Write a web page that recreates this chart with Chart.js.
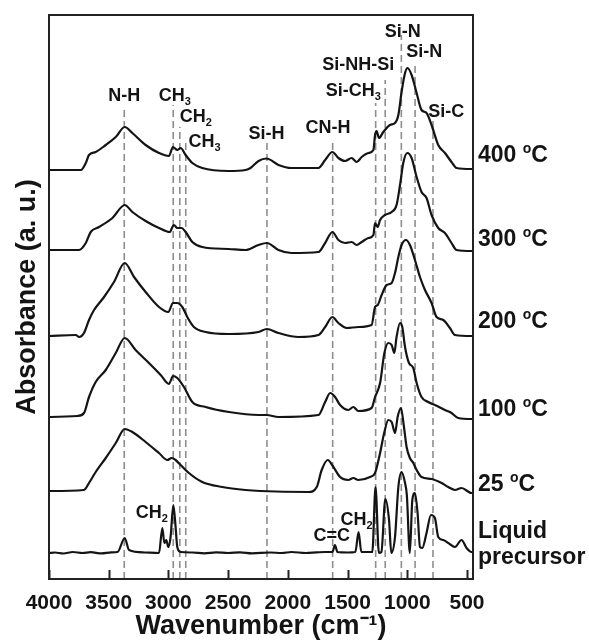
<!DOCTYPE html>
<html lang="en">
<head>
<meta charset="utf-8">
<title>FTIR spectra vs. temperature</title>
<script src="https://cdn.jsdelivr.net/npm/chart.js@4.4.1/dist/chart.umd.min.js"></script>
<style>
  * { margin: 0; padding: 0; box-sizing: border-box; }
  body { background: #fff; width: 589px; height: 640px; overflow: hidden; }
  #wrap { position: relative; width: 589px; height: 640px; }
</style>
</head>
<body>
<div id="wrap"><canvas id="ftir" width="589" height="640"></canvas></div>
<script>
// ---- data (wavenumber in cm-1, absorbance above each curve's own baseline) ----
const seriesNames = ["400 °C", "300 °C", "200 °C", "100 °C", "25 °C", "Liquid precursor"];
const offsets = [4.09, 3.29, 2.43, 1.62, 0.88, 0.26]; // vertical stacking of the traces

const wn400 = [4000, 3734, 3692, 3665, 3609, 3525, 3441, 3366, 3302, 3191, 3079, 2996, 2962, 2926, 2898, 2856, 2800, 2717, 2497, 2355, 2313, 2246, 2179, 2079, 1970, 1744, 1688, 1627, 1577, 1521, 1466, 1424, 1382, 1326, 1284, 1270, 1257, 1237, 1201, 1145, 1103, 1075, 1048, 1019, 998, 964, 922, 881, 839, 797, 741, 685, 630, 588, 462, 450];
const abs400 = [0, 0, 0.07, 0.15, 0.18, 0.25, 0.33, 0.43, 0.37, 0.25, 0.17, 0.14, 0.23, 0.20, 0.22, 0.15, 0.07, 0.02, -0.01, 0, 0.02, 0.09, 0.115, 0.05, 0.02, 0.02, 0.10, 0.18, 0.12, 0.09, 0.12, 0.08, 0.13, 0.17, 0.20, 0.35, 0.39, 0.32, 0.38, 0.45, 0.47, 0.55, 0.78, 0.97, 1.02, 0.95, 0.77, 0.60, 0.57, 0.45, 0.25, 0.17, 0.08, 0.02, 0.01, 0.01];

const wn300 = [4000, 3748, 3692, 3651, 3581, 3469, 3366, 3302, 3191, 3079, 2990, 2954, 2926, 2891, 2856, 2800, 2717, 2497, 2355, 2246, 2176, 2079, 1970, 1744, 1688, 1627, 1577, 1521, 1466, 1424, 1382, 1326, 1284, 1270, 1248, 1228, 1187, 1131, 1090, 1061, 1034, 1000, 964, 922, 881, 839, 797, 741, 685, 630, 588, 462, 450];
const abs300 = [0, 0, 0.07, 0.18, 0.23, 0.32, 0.45, 0.38, 0.29, 0.22, 0.18, 0.25, 0.22, 0.22, 0.18, 0.08, 0.03, 0.01, 0, 0.05, 0.07, 0, -0.03, -0.02, 0.07, 0.18, 0.10, 0.07, 0.08, 0.05, 0.08, 0.12, 0.15, 0.27, 0.23, 0.30, 0.35, 0.38, 0.45, 0.65, 0.87, 0.97, 0.92, 0.73, 0.58, 0.52, 0.35, 0.22, 0.17, 0.07, 0, -0.01, -0.01];

const wn200 = [4000, 3776, 3748, 3707, 3665, 3623, 3539, 3456, 3366, 3288, 3191, 3079, 3001, 2962, 2926, 2884, 2842, 2787, 2689, 2494, 2246, 2176, 2079, 1911, 1744, 1688, 1627, 1577, 1508, 1410, 1299, 1270, 1248, 1215, 1173, 1131, 1103, 1075, 1048, 1011, 978, 936, 894, 852, 797, 755, 699, 643, 601, 462, 450];
const abs200 = [0, 0.01, -0.01, 0.03, 0.16, 0.26, 0.39, 0.54, 0.73, 0.59, 0.44, 0.29, 0.24, 0.33, 0.33, 0.29, 0.19, 0.09, 0.04, 0.02, 0.04, 0.07, 0.03, -0.01, 0.01, 0.09, 0.19, 0.13, 0.08, 0.09, 0.11, 0.29, 0.31, 0.41, 0.51, 0.53, 0.63, 0.79, 0.91, 0.96, 0.91, 0.76, 0.59, 0.46, 0.33, 0.19, 0.16, 0.08, 0.01, 0, 0];

const wn100 = [4000, 3762, 3707, 3665, 3609, 3525, 3441, 3366, 3275, 3163, 3065, 2996, 2962, 2926, 2870, 2800, 2689, 2494, 2243, 2179, 2079, 1744, 1688, 1646, 1605, 1563, 1494, 1452, 1410, 1299, 1270, 1228, 1192, 1159, 1131, 1109, 1090, 1061, 1042, 1019, 986, 950, 922, 881, 825, 769, 685, 630, 574, 462, 450];
const abs100 = [0, 0.01, 0.04, 0.20, 0.35, 0.47, 0.64, 0.79, 0.67, 0.54, 0.42, 0.33, 0.41, 0.39, 0.30, 0.15, 0.10, 0.05, 0.02, 0.02, 0, 0.02, 0.15, 0.24, 0.20, 0.12, 0.07, 0.10, 0.06, 0.09, 0.20, 0.34, 0.64, 0.74, 0.72, 0.64, 0.80, 0.94, 0.90, 0.70, 0.54, 0.49, 0.34, 0.20, 0.15, 0.12, 0.07, 0.04, -0.01, -0.02, -0.02];

const wn25 = [4000, 3707, 3665, 3609, 3525, 3441, 3366, 3302, 3191, 3079, 3009, 2973, 2940, 2898, 2829, 2717, 2549, 2355, 2230, 1828, 1758, 1717, 1666, 1619, 1563, 1494, 1452, 1410, 1312, 1270, 1228, 1192, 1159, 1131, 1103, 1081, 1053, 1028, 1006, 978, 950, 922, 881, 797, 713, 657, 601, 546, 462, 450];
const abs25 = [0, 0.01, 0.08, 0.19, 0.33, 0.48, 0.62, 0.59, 0.49, 0.38, 0.31, 0.33, 0.31, 0.26, 0.18, 0.09, 0.04, 0.01, 0, -0.01, 0.04, 0.21, 0.31, 0.24, 0.14, 0.11, 0.13, 0.11, 0.14, 0.18, 0.38, 0.59, 0.71, 0.69, 0.58, 0.74, 0.83, 0.64, 0.44, 0.33, 0.28, 0.21, 0.14, 0.12, 0.08, 0.04, 0.01, 0.03, -0.02, -0.02];

const wnLiq = [4000, 3950, 3880, 3800, 3720, 3650, 3560, 3480, 3426, 3366, 3330, 3200, 3079, 3051, 3034, 3018, 3001, 2982, 2959, 2940, 2926, 2898, 2800, 2700, 2600, 2500, 2400, 2300, 2150, 2050, 1970, 1850, 1760, 1688, 1627, 1606, 1585, 1500, 1435, 1408, 1385, 1293, 1266, 1238, 1217, 1184, 1153, 1134, 1103, 1075, 1048, 1019, 1004, 979, 958, 936, 914, 894, 875, 839, 802, 769, 741, 699, 657, 601, 546, 504, 462, 450];
const absLiq = [0, 0.005, -0.005, 0.01, 0, 0.008, -0.004, 0.006, 0.01, 0.15, 0.03, 0.005, 0, 0.25, 0.10, 0.13, 0.06, 0.16, 0.48, 0.26, 0.06, 0.01, 0.005, -0.003, 0.006, 0, 0.006, -0.004, 0.005, 0, 0.01, 0, 0.006, 0.01, 0.01, 0.08, 0.01, 0.005, 0.01, 0.21, 0.01, 0.01, 0.66, 0, 0.01, 0.54, 0.33, 0, 0.16, 0.66, 0.81, 0.70, 0.58, 0, 0.53, 0.60, 0.40, 0.06, 0.05, 0.20, 0.38, 0.35, 0.16, 0.13, 0.10, 0.06, 0.13, 0.05, 0.01, 0.01];

// band assignments (dashed guide lines)
const bandWn = [3370, 2960, 2905, 2855, 2175, 1625, 1265, 1185, 1050, 935, 785];
const tickVals = [4000, 3500, 3000, 2500, 2000, 1500, 1000, 500];

// ---- layout only (not data) ----
const bandTop = [4.69, 4.74, 4.52, 4.36, 4.36, 4.39, 4.76, 4.99, 5.44, 5.16, 4.61];
const bandLabels = [
  { text: "N-H", wn: 3370, y: 4.83, align: "center" },
  { text: "CH_3", wn: 3082, y: 4.83, align: "left" },
  { text: "CH_2", wn: 2906, y: 4.62, align: "left" },
  { text: "CH_3", wn: 2831, y: 4.37, align: "left" },
  { text: "Si-H", wn: 2179, y: 4.45, align: "center" },
  { text: "CN-H", wn: 1665, y: 4.505, align: "center" },
  { text: "Si-NH-Si", wn: 1410, y: 5.14, align: "center" },
  { text: "Si-CH_3", wn: 1452, y: 4.88, align: "center" },
  { text: "Si-N", wn: 1038, y: 5.47, align: "center" },
  { text: "Si-N", wn: 858, y: 5.27, align: "center" },
  { text: "Si-C", wn: 674, y: 4.665, align: "center" },
  { text: "CH_2", wn: 3274, y: 0.66, align: "left" },
  { text: "C=C", wn: 1786, y: 0.43, align: "left" },
  { text: "CH_2", wn: 1560, y: 0.59, align: "left" }
];
const nameY = [[4.23], [3.39], [2.57], [1.69], [0.94], [0.47, 0.21]];

const FONT = "'Liberation Sans', Arial, Helvetica, sans-serif";
const INK = "#141414";

const wnSets = [wn400, wn300, wn200, wn100, wn25, wnLiq];
const absSets = [abs400, abs300, abs200, abs100, abs25, absLiq];

const curveSets = seriesNames.map((name, i) => ({
  label: name,
  data: wnSets[i].map((w, k) => ({ x: w, y: absSets[i][k] + offsets[i] })),
  borderColor: INK,
  borderWidth: 2.2,
  pointRadius: 0,
  cubicInterpolationMode: "monotone",
  fill: false,
  order: 1
}));

const guideSets = bandWn.map((w, i) => ({
  label: "band " + w,
  data: [{ x: w, y: 0 }, { x: w, y: bandTop[i] }],
  borderColor: "#8e8e8e",
  borderWidth: 1.6,
  borderDash: [7, 4],
  pointRadius: 0,
  fill: false,
  order: 2
}));

// text with _x subscripts and ^x superscripts
function drawRich(ctx, text, x, y, size, align) {
  const parts = [];
  for (let i = 0; i < text.length; i++) {
    const c = text[i];
    if (c === "_" || c === "^") { parts.push({ t: text[i + 1], k: c }); i++; }
    else if (parts.length && !parts[parts.length - 1].k) parts[parts.length - 1].t += c;
    else parts.push({ t: c, k: "" });
  }
  const small = Math.round(size * 0.62);
  let total = 0;
  parts.forEach(p => {
    ctx.font = "bold " + (p.k ? small : size) + "px " + FONT;
    p.w = ctx.measureText(p.t).width;
    total += p.w;
  });
  let cx = align === "center" ? x - total / 2 : x;
  ctx.textAlign = "left";
  ctx.textBaseline = "middle";
  parts.forEach(p => {
    ctx.font = "bold " + (p.k ? small : size) + "px " + FONT;
    let dy = 0;
    if (p.k === "_") dy = size * 0.32;
    if (p.k === "^") dy = -size * 0.3;
    ctx.fillText(p.t, cx, y + dy);
    cx += p.w;
  });
}

const decor = {
  id: "decor",
  afterDraw(chart) {
    const { ctx, chartArea: a, scales: { x, y } } = chart;
    ctx.save();
    ctx.strokeStyle = "#222";
    ctx.lineWidth = 2;
    ctx.strokeRect(a.left, a.top, a.right - a.left, a.bottom - a.top);
    // ticks point into the plot
    x.ticks.forEach(t => {
      const px = Math.round(x.getPixelForValue(t.value)) + 0.5;
      ctx.beginPath();
      ctx.moveTo(px, a.bottom);
      ctx.lineTo(px, a.bottom - 9);
      ctx.stroke();
    });
    ctx.fillStyle = INK;
    bandLabels.forEach(l => drawRich(ctx, l.text, x.getPixelForValue(l.wn), y.getPixelForValue(l.y), 18, l.align));
    seriesNames.forEach((name, i) => {
      const lines = nameY[i].length > 1 ? name.split(" ") : [name.replace("°", "^o")];
      lines.forEach((txt, k) => drawRich(ctx, txt, a.right + 5, y.getPixelForValue(nameY[i][k]), 23, "left"));
    });
    ctx.restore();
  }
};

new Chart(document.getElementById("ftir"), {
  type: "line",
  data: { datasets: [...curveSets, ...guideSets] },
  plugins: [decor],
  options: {
    responsive: false,
    devicePixelRatio: 1,
    animation: false,
    layout: { padding: { top: 15, right: 116, bottom: 0, left: 0 } },
    plugins: { legend: { display: false }, tooltip: { enabled: false } },
    scales: {
      x: {
        type: "linear",
        reverse: true,
        min: 450,
        max: 4000,
        afterBuildTicks: s => { s.ticks = tickVals.map(v => ({ value: v })); },
        afterFit: s => { s.height = 61; },
        grid: { display: false, drawTicks: false },
        border: { display: false },
        ticks: {
          autoSkip: false, maxRotation: 0, padding: 12, color: INK,
          font: { family: FONT, size: 21, weight: "bold" },
          callback: v => String(v)
        },
        title: { display: true, text: "Wavenumber (cm⁻¹)", color: INK, padding: { top: 0, bottom: 0 }, font: { family: FONT, size: 27, weight: "bold", lineHeight: 1.0 } }
      },
      y: {
        min: 0,
        max: 5.64,
        afterFit: s => { s.width = 49; },
        grid: { display: false, drawTicks: false },
        border: { display: false },
        ticks: { display: false },
        title: { display: true, text: "Absorbance (a. u.)", color: INK, padding: { top: 11, bottom: 0 }, font: { family: FONT, size: 27, weight: "bold" } }
      }
    }
  }
});
</script>
</body>
</html>
